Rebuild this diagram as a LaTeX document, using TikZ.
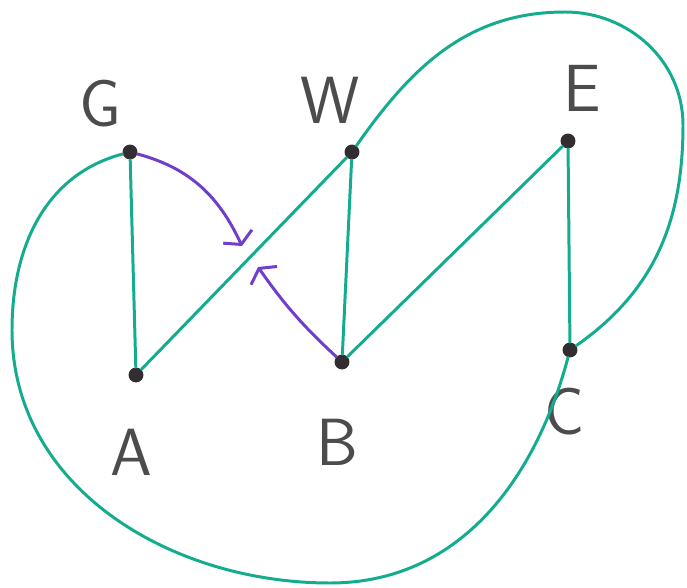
\documentclass[tikz,border=0pt]{standalone}
\usepackage{tikz}
\usetikzlibrary{arrows.meta}
\definecolor{edgeteal}{RGB}{20,172,142}
\definecolor{arrowpurple}{RGB}{112,62,205}
\definecolor{dotgray}{RGB}{50,45,48}
\tikzset{
    vertex/.style={circle, fill=dotgray, inner sep=0pt, minimum size=8.5pt},
    vlabel/.style={font=\sffamily\fontsize{38}{40}\selectfont, text=black!70},
    edge/.style={draw=edgeteal, line width=1.7pt, line cap=round},
    pointer/.style={draw=arrowpurple, line width=1.7pt, line cap=round, -{Straight Barb[length=5pt, width=18pt, line width=1.7pt]}}
}

\begin{document}
\begin{tikzpicture}[x=0.02cm, y=-0.02cm]
    \useasboundingbox (0,0) rectangle (687,588);
    % vertices
    \node [vertex] (G) at (130,152) {};
    \node [vertex] (W) at (352,152) {};
    \node [vertex] (E) at (568,141) {};
    \node [vertex] (A) at (136,375) {};
    \node [vertex] (B) at (342,362) {};
    \node [vertex] (C) at (570,350) {};
    % labels
    \node [vlabel] (lG) at (100,104) {G};
    \node [vlabel] (lW) at (330,100) {W};
    \node [vlabel] (lE) at (582,88) {E};
    \node [vlabel] (lA) at (131,452) {A};
    \node [vlabel] (lB) at (337,442) {B};
    \node [vlabel] (lC) at (565,412) {C};
    % helper points for the long loops and arrow ends
    \coordinate (top) at (565,12);
    \coordinate (right) at (683,125);
    \coordinate (left) at (12,330);
    \coordinate (bottom) at (330,583);
    \coordinate (tipG) at (242,246);
    \coordinate (tipB) at (258,267);

    \draw [edge] (G) -- (A);
    \draw [edge] (A) -- (W);
    \draw [edge] (W) -- (B);
    \draw [edge] (B) -- (E);
    \draw [edge] (E) -- (C);
    \draw [edge] (W) to[out=55, in=180] (top) to[out=0, in=90] (right) to[out=-90, in=35] (C);
    \draw [edge] (G) to[out=195, in=90] (left) to[out=-90, in=180] (bottom) to[out=0, in=-105] (C);

    \draw [pointer] (G) to[out=-15, in=115] (tipG);
    \draw [pointer] (B) to[bend left=6] (tipB);
\end{tikzpicture}
\end{document}
